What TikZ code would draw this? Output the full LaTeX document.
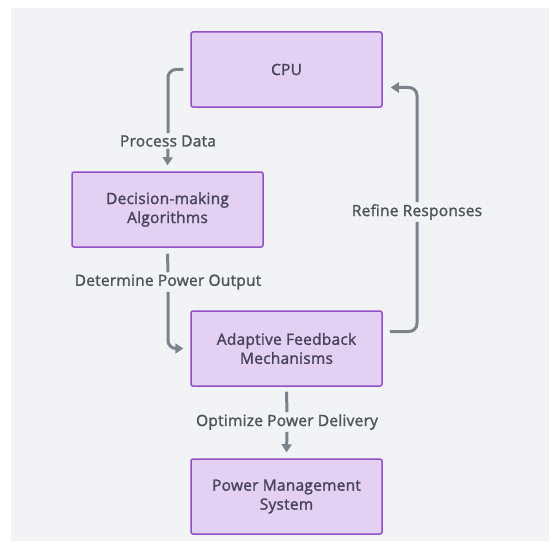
\documentclass[tikz,border=0pt]{standalone}
\usepackage{fontspec}
\setmainfont{Open Sans}[FakeBold=1.6,LetterSpace=1.5]
\usetikzlibrary{arrows.meta}
\definecolor{boxfill}{HTML}{E3D0F3}
\definecolor{boxdraw}{HTML}{9150C6}
\definecolor{boxtxt}{HTML}{474359}
\definecolor{lbltxt}{HTML}{4F535B}
\definecolor{edgec}{HTML}{7A838C}
\definecolor{bgc}{HTML}{F1F3F5}
\definecolor{dotc}{HTML}{DADDE1}
\tikzset{
  stepbox/.style={rectangle, rounded corners=2pt, draw=boxdraw, line width=1.5pt,
    fill=boxfill, minimum width=191pt, minimum height=75pt, text=boxtxt,
    align=center, font=\fontsize{15.5}{19}\selectfont, inner sep=0pt},
  lbl/.style={text=lbltxt, font=\fontsize{15.5}{18}\selectfont, inner sep=2pt},
  conn/.style={draw=edgec, line width=3pt, rounded corners=8pt},
  arr/.style={conn, -{Triangle[length=8pt,width=10pt]}}
}
\begin{document}
\begin{tikzpicture}[x=1pt,y=-1pt]
\useasboundingbox (0,0) rectangle (549,543);
\fill[white] (0,0) rectangle (549,543);
\fill[bgc] (11,8) rectangle (549,541);
\foreach \i in {0,...,66} {
  \foreach \j in {0,...,65} {
    \fill[dotc] (15+8*\i, 12+8*\j) circle (0.6pt);
  }
}
\node[stepbox] (cpu) at (286.5,69.5) {CPU};
\node[stepbox] (dec) at (167.5,209.5) {Decision-making\\Algorithms};
\node[stepbox] (ada) at (286.5,348.5) {Adaptive Feedback\\Mechanisms};
\node[stepbox] (pow) at (286.5,496.5) {Power Management\\System};

\node[lbl] (pd) at (168,141) {Process Data};
\node[lbl] (dpo) at (168,282) {Determine Power Output};
\node[lbl] (rr) at (417,212) {Refine Responses};
\node[lbl] (opd) at (287,422) {Optimize Power Delivery};

\draw[conn] ([xshift=-7pt]cpu.west) -| (pd.north);
\draw[arr] (pd.south) -- ([yshift=6pt]dec.north);
\draw[conn] ([yshift=-6pt]dec.south) -- (dpo.north);
\draw[arr] (dpo.south) |- ([xshift=-7pt]ada.west);
\draw[conn] ([shift={(7pt,17pt)}]ada.east) -| (rr.south);
\draw[arr] (rr.north) |- ([shift={(8pt,-18pt)}]cpu.east);
\draw[conn] ([yshift=-5pt]ada.south) -- (opd.north);
\draw[arr] (opd.south) -- ([yshift=6pt]pow.north);
\end{tikzpicture}
\end{document}
